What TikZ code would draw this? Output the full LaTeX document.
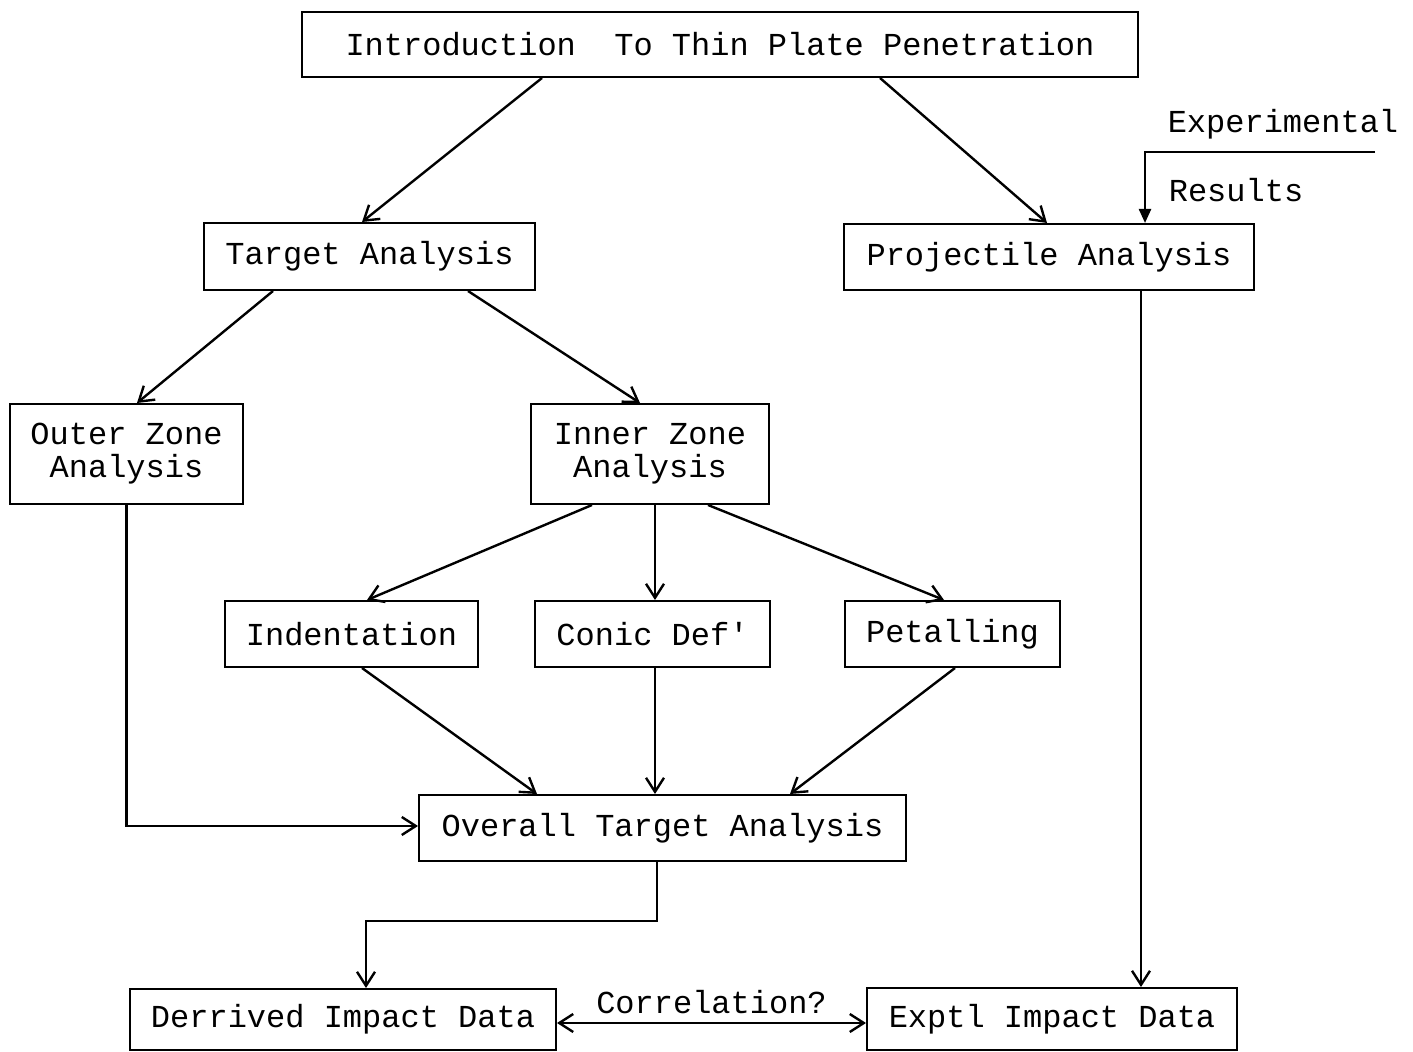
\documentclass[tikz,border=0pt]{standalone}
\usepackage{fontspec}
\setmonofont{Liberation Mono}
\usetikzlibrary{arrows.meta}
\begin{document}
\begin{tikzpicture}[x=0.5pt,y=-0.5pt,
  box/.style={draw,line width=1pt,inner sep=0pt,font=\ttfamily\fontsize{16}{17}\selectfont,align=center},
  lbl/.style={inner sep=0pt,font=\ttfamily\fontsize{16}{17}\selectfont},
  arr/.style={line width=1.2pt,-{Straight Barb[length=7pt,width=9pt,line width=1.2pt]}},
  arrf/.style={line width=1.2pt,-{Triangle[length=7pt,width=6pt]}},
  darr/.style={line width=1.2pt,{Straight Barb[length=7pt,width=9pt,line width=1.2pt]}-{Straight Barb[length=7pt,width=9pt,line width=1.2pt]}}]
\useasboundingbox[fill=white] (0,0) rectangle (1413,1052);
% nodes
\node[box,minimum width=418pt,minimum height=32.5pt] (intro) at (720,44.5) {Introduction\ \ To Thin Plate Penetration};
\node[box,minimum width=165.5pt,minimum height=33.5pt] (target) at (369.5,256.5) {Target Analysis};
\node[box,minimum width=205pt,minimum height=33pt] (proj) at (1049,257) {Projectile Analysis};
\node[box,minimum width=116.5pt,minimum height=50pt,font=\ttfamily\fontsize{16}{16.5}\selectfont] (outer) at (126.5,454) {Outer Zone\\Analysis};
\node[box,minimum width=119pt,minimum height=50pt,font=\ttfamily\fontsize{16}{16.5}\selectfont] (inner) at (650,454) {Inner Zone\\Analysis};
\node[box,minimum width=126.5pt,minimum height=33pt] (indent) at (351.5,634) {Indentation};
\node[box,minimum width=117.5pt,minimum height=33pt] (conic) at (652.5,634) {Conic Def'};
\node[box,minimum width=107.5pt,minimum height=33pt] (petal) at (952.5,634) {Petalling};
\node[box,minimum width=243.5pt,minimum height=33pt] (overall) at (662.5,828) {Overall Target Analysis};
\node[box,minimum width=213pt,minimum height=30.5pt] (derived) at (343,1019.5) {Derrived Impact Data};
\node[box,minimum width=185pt,minimum height=31pt] (exptl) at (1052,1019) {Exptl Impact Data};
\node[lbl] (explbl) at (1283,124) {Experimental};
\node[lbl] (reslbl) at (1236,190) {Results};
\coordinate (expstart) at (1375,152);
% connectors
\draw[arr] ([xshift=-89pt]intro.south) -- ([xshift=-3.75pt]target.north);
\draw[arr] ([xshift=80pt]intro.south) -- ([xshift=-1pt]proj.north);
\draw[arrf] (expstart) -| ([xshift=48pt]proj.north);
\draw[arr] ([xshift=-48.25pt]target.south) -- ([xshift=5.25pt]outer.north);
\draw[arr] ([xshift=49.25pt]target.south) -- ([xshift=-5pt]inner.north);
\draw[arr] ([xshift=46pt]proj.south) -- ([xshift=46pt]proj.south |- exptl.north);
\draw[arr] (outer.south) |- ([yshift=1pt]overall.west);
\draw[arr] ([xshift=-29pt]inner.south) -- ([xshift=7.75pt]indent.north);
\draw[arr] ([xshift=2.5pt]inner.south) -- ([xshift=2.5pt]inner.south |- conic.north);
\draw[arr] ([xshift=29pt]inner.south) -- ([xshift=-4.25pt]petal.north);
\draw[arr] ([xshift=5.25pt]indent.south) -- ([xshift=-62.75pt]overall.north);
\draw[arr] ([xshift=1.25pt]conic.south) -- ([xshift=1.25pt]conic.south |- overall.north);
\draw[arr] ([xshift=1.25pt]petal.south) -- ([xshift=63.75pt]overall.north);
\draw[arr] ([xshift=-2.75pt]overall.south) -- ++(0,59) -| ([xshift=11.5pt]derived.north);
\draw[darr] ([yshift=-1.75pt]derived.east) -- node[lbl,above=4pt] (corr) {Correlation?} ([yshift=-2pt]exptl.west);
\end{tikzpicture}
\end{document}
